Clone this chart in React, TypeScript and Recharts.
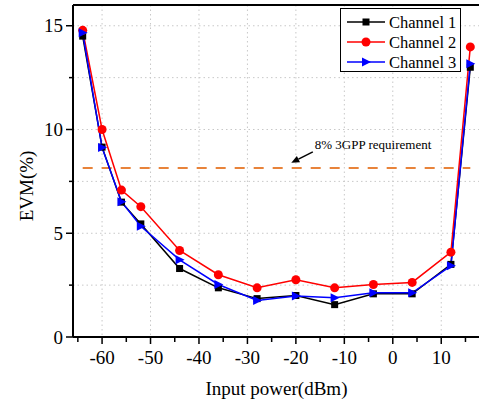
import React from "react";
import { LineChart, Line, XAxis, YAxis, CartesianGrid, ReferenceLine, ReferenceDot } from "recharts";

const inputPower = [-64, -60, -56, -52, -44, -36, -28, -20, -12, -4, 4, 12, 16];
const channel1 = [14.5, 9.15, 6.5, 5.45, 3.3, 2.37, 1.85, 2.0, 1.56, 2.08, 2.08, 3.5, 13.0];
const channel2 = [14.78, 10.0, 7.08, 6.28, 4.17, 3.0, 2.37, 2.76, 2.37, 2.53, 2.63, 4.09, 13.98];
const channel3 = [14.66, 9.13, 6.52, 5.34, 3.72, 2.53, 1.76, 1.97, 1.89, 2.13, 2.13, 3.43, 13.17];

const xTicks = [-65, -60, -55, -50, -45, -40, -35, -30, -25, -20, -15, -10, -5, 0, 5, 10, 15];
const yTicks = [0, 2.5, 5, 7.5, 10, 12.5, 15];
const xGrid = [-60, -50, -40, -30, -20, -10, 0, 10];
const yGrid = [2.5, 5, 7.5, 10, 12.5, 15];

const requirement = 8.15;
const requirementLabel = "8% 3GPP requirement";

const series = [
  { key: "ch1", name: "Channel 1", color: "#000000", marker: "square" },
  { key: "ch2", name: "Channel 2", color: "#ff0000", marker: "circle" },
  { key: "ch3", name: "Channel 3", color: "#0000ff", marker: "triangle" },
];

const data = inputPower.map((x, i) => ({ x, ch1: channel1[i], ch2: channel2[i], ch3: channel3[i] }));

const FONT = "Liberation Serif, Tinos, DejaVu Serif, serif";
const txt = { fontFamily: FONT };

const Marker = ({ kind, cx, cy, color }: any) => {
  if (cx == null || cy == null) return null;
  if (kind === "square") return <rect x={cx - 3.5} y={cy - 3.5} width={7} height={7} fill={color} />;
  if (kind === "circle") return <circle cx={cx} cy={cy} r={4.5} fill={color} />;
  return <polygon points={`${cx - 4},${cy - 4.5} ${cx + 5},${cy} ${cx - 4},${cy + 4.5}`} fill={color} />;
};

const YTick = ({ x, y, payload }: any) => {
  const major = payload.value % 5 === 0;
  return (
    <g>
      <line x1={x} x2={x - (major ? 7 : 4)} y1={y} y2={y} stroke="#000" strokeWidth={1.5} />
      {major && (
        <text x={x - 10} y={y} textAnchor="end" dominantBaseline="central" fontSize={19} style={txt} fill="#000">
          {payload.value}
        </text>
      )}
    </g>
  );
};

const XTick = ({ x, y, payload }: any) => {
  const major = payload.value % 10 === 0;
  return (
    <g>
      <line x1={x} x2={x} y1={y} y2={y + (major ? 7 : 5)} stroke="#000" strokeWidth={1.5} />
      {major && (
        <text x={x} y={y + 26.5} textAnchor="middle" fontSize={19} style={txt} fill="#000">
          {payload.value}
        </text>
      )}
    </g>
  );
};

const Arrow = ({ x1, y1, x2, y2 }: any) => {
  const ang = Math.atan2(y2 - y1, x2 - x1);
  const len = 8;
  const w = 3.5;
  const bx = x2 - len * Math.cos(ang);
  const by = y2 - len * Math.sin(ang);
  const px = -Math.sin(ang) * w;
  const py = Math.cos(ang) * w;
  return (
    <g>
      <line x1={x1} y1={y1} x2={bx} y2={by} stroke="#000" strokeWidth={1.5} />
      <polygon points={`${x2},${y2} ${bx + px},${by + py} ${bx - px},${by - py}`} fill="#000" />
    </g>
  );
};

const LegendBox = () => (
  <svg width={122} height={65} style={{ position: "absolute", left: 340, top: 8 }}>
    <rect x={0.5} y={0.5} width={120} height={63} fill="#fff" stroke="#000" strokeWidth={1} />
    {series.map((s, i) => {
      const cy = 14 + i * 20;
      return (
        <g key={s.key}>
          <line x1={7} x2={45} y1={cy} y2={cy} stroke={s.color} strokeWidth={1.5} />
          <Marker kind={s.marker} cx={26} cy={cy} color={s.color} />
          <text x={49} y={cy} dominantBaseline="central" fontSize={16.5} style={txt} fill="#000">
            {s.name}
          </text>
        </g>
      );
    })}
  </svg>
);

export default function App() {
  return (
    <div style={{ position: "relative", width: 479, height: 402, overflow: "hidden", background: "#fff", fontFamily: FONT }}>
      <style>{`body{margin:0}`}</style>
      <LineChart width={485} height={402} data={data} margin={{ top: 5, right: 5, left: 0, bottom: 0 }}>
        <CartesianGrid stroke="#c8c8c8" strokeDasharray="1.5 3" verticalValues={xGrid} horizontalValues={yGrid} />
        <XAxis
          dataKey="x"
          type="number"
          domain={[-66, 18]}
          ticks={xTicks}
          interval={0}
          allowDataOverflow
          height={65}
          tickSize={0}
          tickMargin={0}
          tick={<XTick />}
          axisLine={{ stroke: "#000", strokeWidth: 2 }}
          tickLine={false}
          label={{
            content: (p: any) => {
              const vb = p.viewBox;
              return (
                <text x={vb.x + vb.width / 2} y={vb.y + vb.height - 7} textAnchor="middle" fontSize={19} style={txt} fill="#000">
                  Input power(dBm)
                </text>
              );
            },
          }}
        />
        <YAxis
          type="number"
          domain={[0, 16]}
          ticks={yTicks}
          interval={0}
          allowDataOverflow
          width={73}
          tickSize={0}
          tickMargin={0}
          tick={<YTick />}
          axisLine={{ stroke: "#000", strokeWidth: 2 }}
          tickLine={false}
          label={{
            content: () => (
              <text x={26} y={186} transform="rotate(-90 26 186)" textAnchor="middle" dominantBaseline="central" fontSize={19} style={txt} fill="#000">
                EVM(%)
              </text>
            ),
          }}
        />
        <ReferenceLine y={16} stroke="#000" strokeWidth={2} />
        <ReferenceLine
          segment={[{ x: -64, y: requirement }, { x: 16, y: requirement }]}
          stroke="#e8833a"
          strokeWidth={2}
          strokeDasharray="10 9"
        />
        <ReferenceLine
          segment={[{ x: -16.5, y: 8.92 }, { x: -20.95, y: 8.4 }]}
          shape={(p: any) => <Arrow {...p} />}
        />
        <ReferenceDot
          x={-16.1}
          y={9.08}
          r={0}
          shape={(p: any) => (
            <text x={p.cx} y={p.cy} fontSize={13} style={txt} fill="#000">
              {requirementLabel}
            </text>
          )}
        />
        {series.map((s) => (
          <Line
            key={s.key}
            dataKey={s.key}
            name={s.name}
            stroke={s.color}
            strokeWidth={1.5}
            isAnimationActive={false}
            dot={(p: any) => <Marker key={`${s.key}-${p.index}`} kind={s.marker} cx={p.cx} cy={p.cy} color={s.color} />}
            activeDot={false}
          />
        ))}
      </LineChart>
      <LegendBox />
    </div>
  );
}
